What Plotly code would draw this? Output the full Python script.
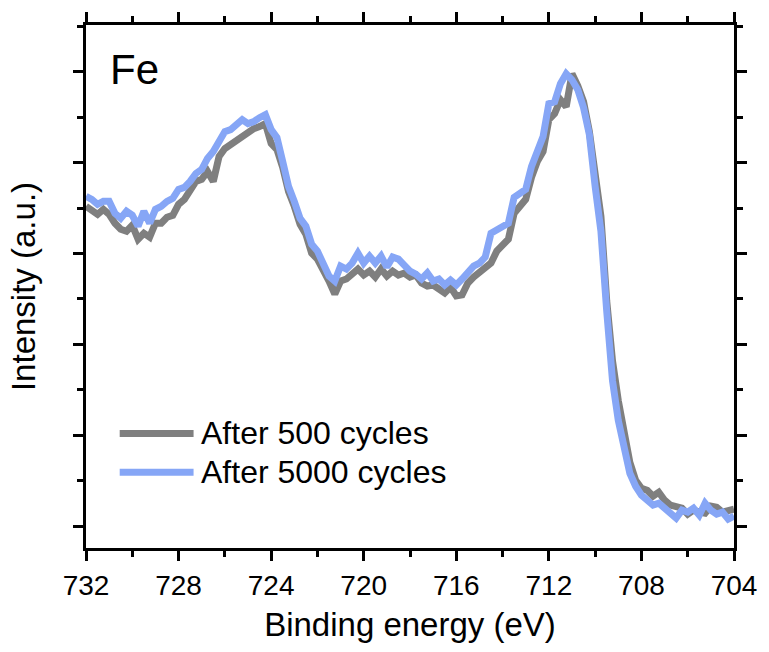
import plotly.graph_objects as go

# Binding energy grid (eV), 732 -> 704 in 0.25 eV steps
energy = [732 - 0.25 * i for i in range(113)]

# Intensity (a.u.) after 500 cycles (grey)
int_500 = [321, 316, 313, 318, 313, 304, 298, 296, 302, 288, 294, 290, 304, 304, 310, 312,
           323, 328, 336, 346, 348, 356, 346, 371, 379, 383, 388, 393, 396, 399, 401, 404,
           384, 378, 360, 336, 321, 303, 293, 274, 268, 258, 246, 233, 246, 248, 254, 258,
           252, 256, 250, 258, 251, 256, 252, 254, 250, 252, 244, 241, 242, 238, 234, 240,
           231, 232, 244, 250, 254, 260, 264, 276, 281, 288, 314, 321, 328, 350, 366, 376,
           408, 414, 428, 421, 454, 442, 426, 396, 356, 311, 226, 166, 126, 91, 64, 46,
           38, 36, 30, 34, 26, 21, 20, 18, 12, 16, 14, 13, 20, 19, 14, 15, 17]

# Intensity (a.u.) after 5000 cycles (blue)
int_5000 = [331, 328, 323, 326, 326, 314, 309, 316, 312, 301, 316, 304, 318, 321, 326, 329,
            338, 340, 346, 354, 358, 369, 376, 388, 396, 398, 402, 408, 404, 406, 410, 413,
            398, 390, 366, 341, 326, 309, 301, 283, 276, 264, 251, 246, 261, 258, 264, 274,
            264, 271, 264, 271, 260, 270, 268, 262, 256, 253, 248, 254, 246, 248, 242, 247,
            242, 248, 256, 261, 264, 270, 294, 298, 300, 304, 330, 334, 338, 361, 376, 391,
            424, 426, 444, 454, 448, 438, 420, 393, 341, 296, 216, 146, 106, 76, 53, 40,
            31, 26, 21, 23, 18, 14, 8, 16, 14, 18, 11, 23, 16, 12, 14, 7, 10]

series_names = ["After 500 cycles", "After 5000 cycles"]
series_colors = ["#7f7f7f", "#86a6f6"]

x_ticks = [732, 728, 724, 720, 716, 712, 708, 704]

fig = go.Figure()
for name, vals, col in zip(series_names, [int_500, int_5000], series_colors):
    fig.add_trace(go.Scatter(x=energy, y=vals, mode="lines", name=name,
                             line=dict(color=col, width=7), showlegend=False))

font_family = "Liberation Sans, Arial, sans-serif"

fig.update_layout(
    width=769, height=652,
    margin=dict(l=86, r=31, t=23, b=104),
    plot_bgcolor="white", paper_bgcolor="white",
    font=dict(family=font_family, size=28, color="black"),
    xaxis=dict(
        range=[732, 704], tickvals=x_ticks, ticktext=[str(v) for v in x_ticks],
        ticks="outside", ticklen=10, tickwidth=3, tickcolor="black",
        minor=dict(dtick=2, tick0=704, ticks="outside", ticklen=6, tickwidth=3, tickcolor="black"),
        showline=True, linewidth=3, linecolor="black", mirror="allticks",
        showgrid=False, zeroline=False,
        tickfont=dict(size=28), title=dict(text="Binding energy (eV)", font=dict(size=33), standoff=14),
    ),
    yaxis=dict(
        range=[-22, 503], tick0=0, dtick=91.2, showticklabels=False,
        ticks="outside", ticklen=10, tickwidth=3, tickcolor="black",
        minor=dict(dtick=45.6, tick0=0, ticks="outside", ticklen=6, tickwidth=3, tickcolor="black"),
        showline=True, linewidth=3, linecolor="black", mirror="allticks",
        showgrid=False, zeroline=False,
        title=dict(text="Intensity (a.u.)", font=dict(size=33), standoff=28),
    ),
)

# "Fe" label
fig.add_annotation(x=0.034, y=0.915, xref="paper", yref="paper", text="Fe", showarrow=False,
                   xanchor="left", yanchor="middle", font=dict(size=42, color="black"))

# custom legend (long line samples)
leg_y = [0.219, 0.145]
for name, col, yy in zip(series_names, series_colors, leg_y):
    fig.add_shape(type="line", xref="paper", yref="paper", x0=0.052, x1=0.166, y0=yy, y1=yy,
                  line=dict(color=col, width=7))
    fig.add_annotation(x=0.174, y=yy, xref="paper", yref="paper", text=name, showarrow=False,
                       xanchor="left", yanchor="middle", font=dict(size=32, color="black"))

fig.write_html("out.html")
